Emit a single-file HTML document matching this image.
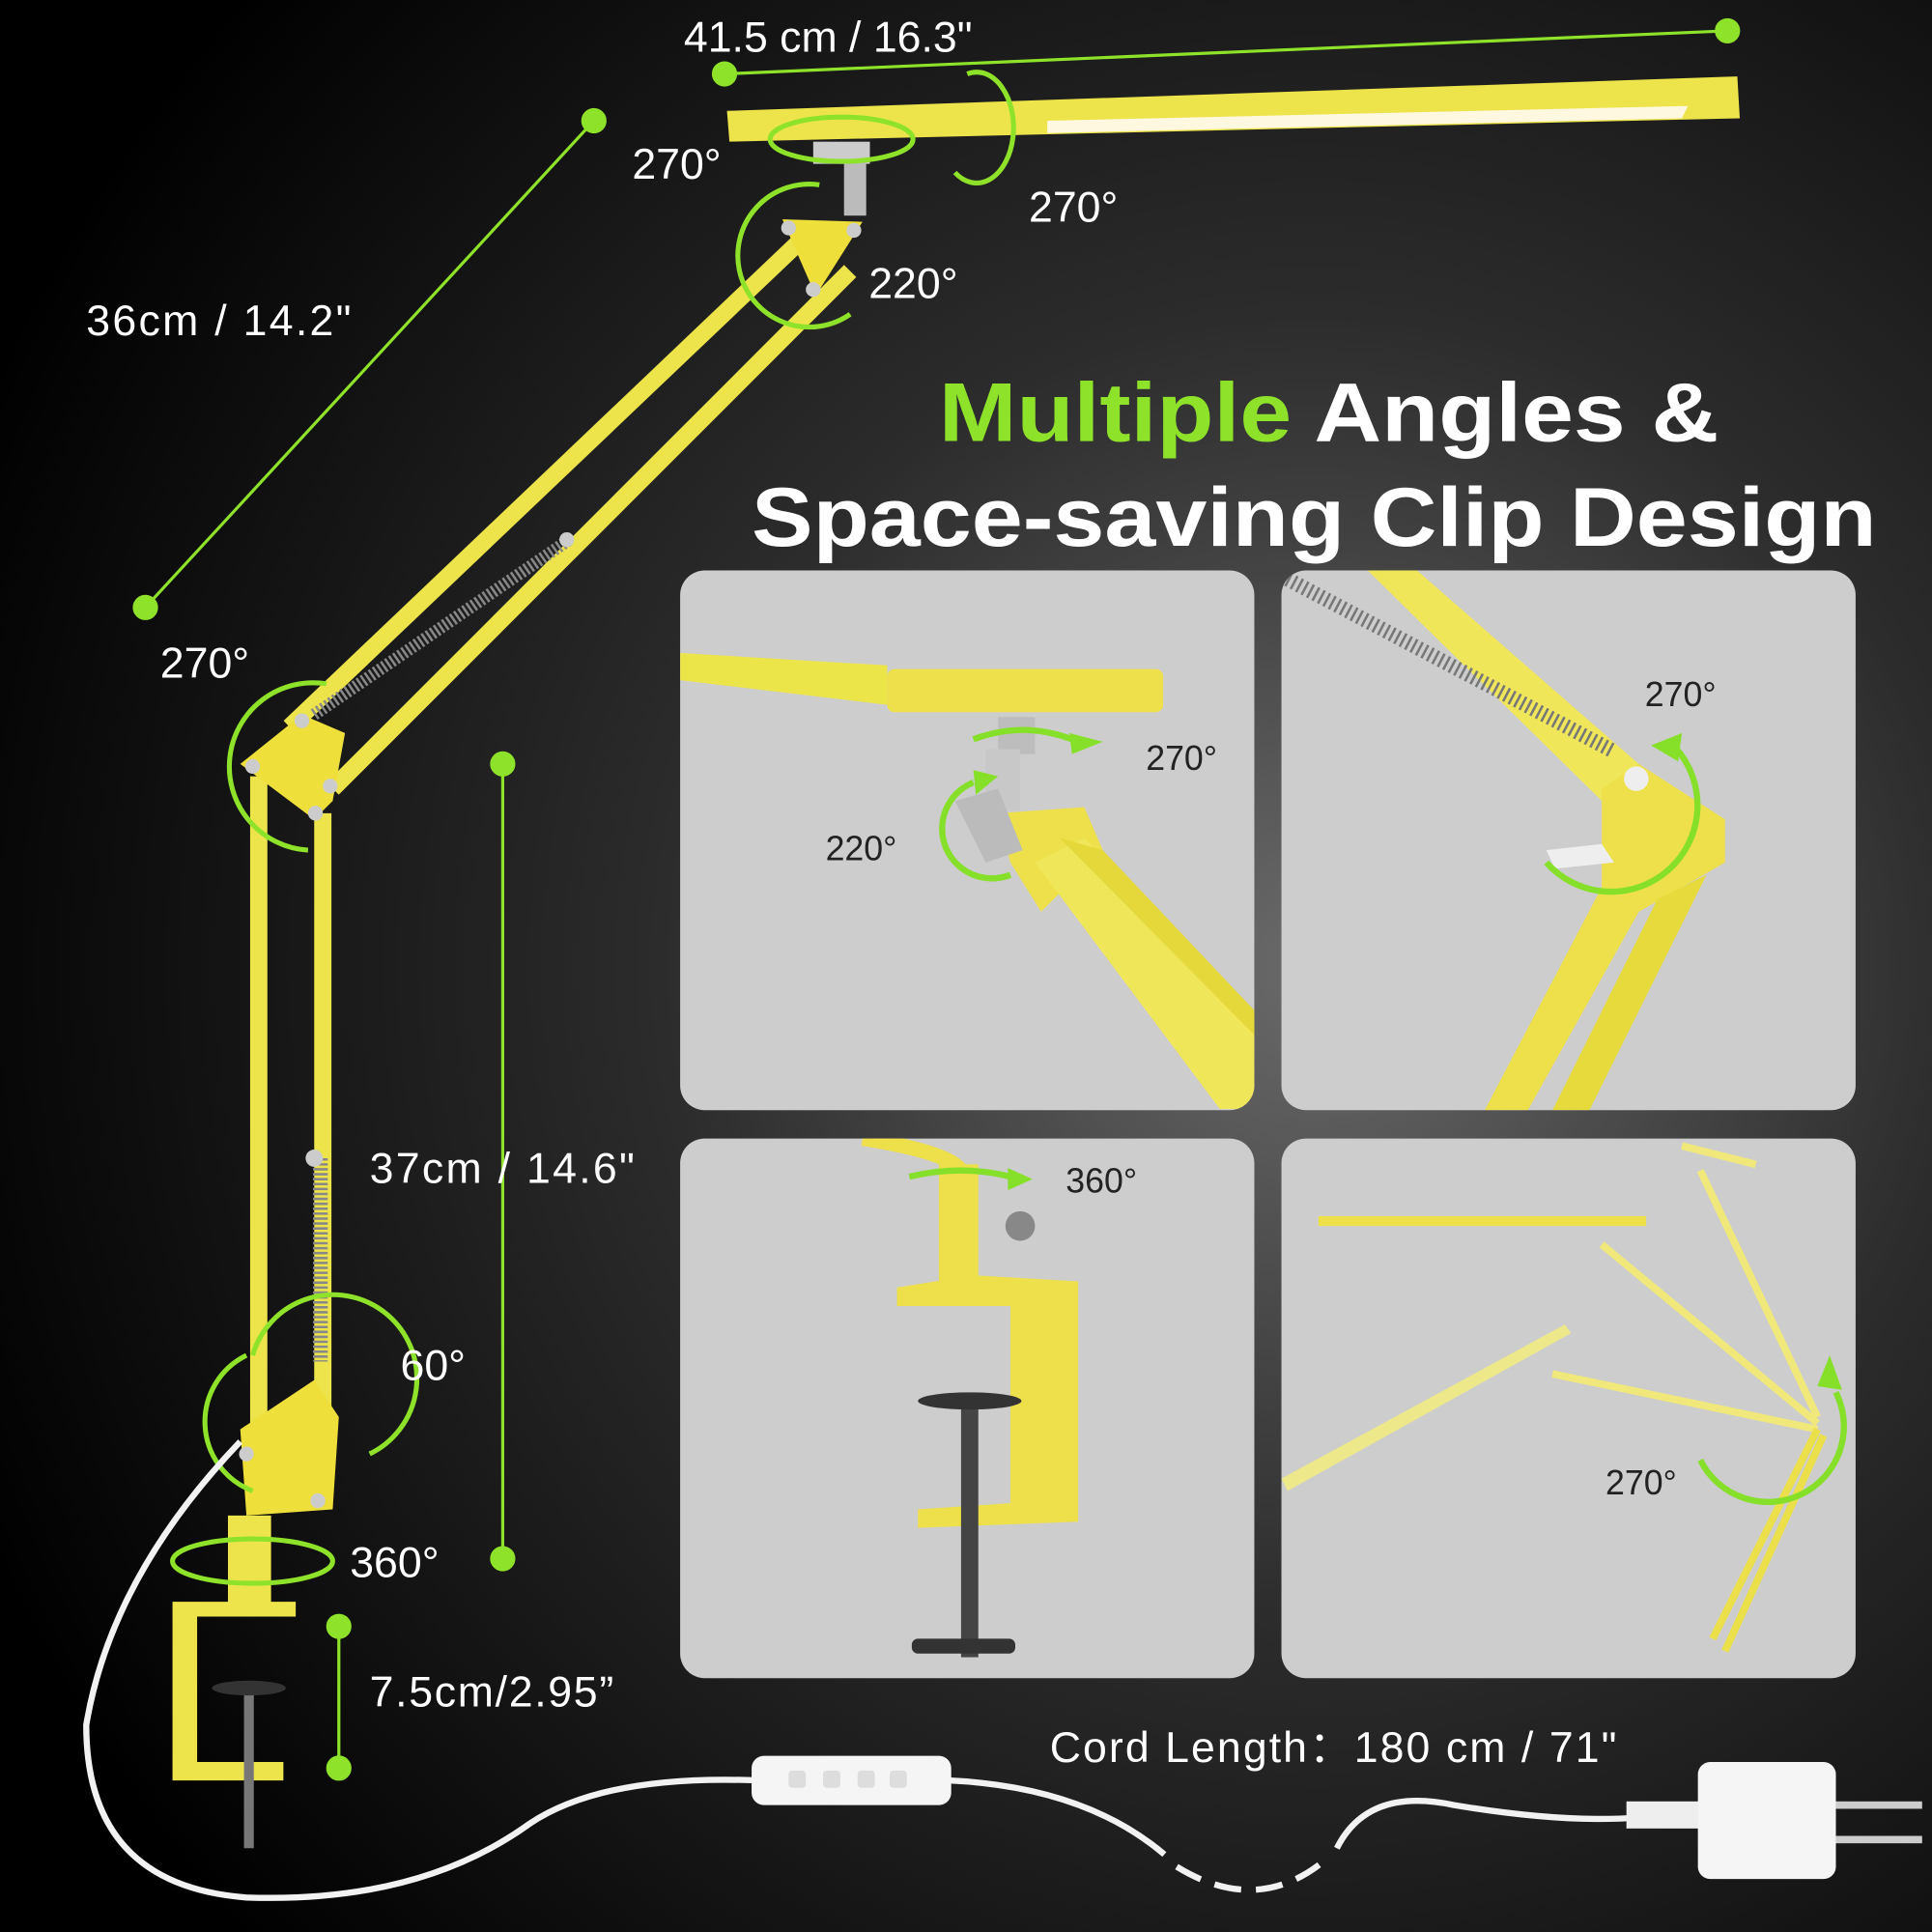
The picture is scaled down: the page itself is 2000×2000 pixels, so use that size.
<!DOCTYPE html>
<html><head><meta charset="utf-8"><style>
html,body{margin:0;padding:0;background:#000}
svg{display:block}
text{font-family:"Liberation Sans",sans-serif;fill:#fff}
</style></head><body>
<svg width="2000" height="2000" viewBox="0 0 1568 1568" xmlns="http://www.w3.org/2000/svg">
<defs>
<radialGradient id="bg" cx="0.68" cy="0.5" r="0.75">
<stop offset="0" stop-color="#6a6a6a"/><stop offset="0.45" stop-color="#2c2c2c"/><stop offset="1" stop-color="#000"/>
</radialGradient>
</defs>
<rect width="1568" height="1568" fill="url(#bg)"/>

<g fill="#cdcdcd">
<rect x="552" y="463" width="466" height="438" rx="20"/>
<rect x="1040" y="463" width="466" height="438" rx="20"/>
<rect x="552" y="924" width="466" height="438" rx="20"/>
<rect x="1040" y="924" width="466" height="438" rx="20"/>
</g>

<clipPath id="c1"><rect x="552" y="463" width="466" height="438" rx="20"/></clipPath>
<g clip-path="url(#c1)">
<polygon points="552,530 720,540 720,572 552,552" fill="#ece54a"/>
<rect x="720" y="543" width="224" height="35" rx="6" fill="#eee04a"/>
<rect x="810" y="582" width="30" height="30" fill="#bdbdbd"/>
<rect x="800" y="608" width="28" height="50" fill="#c8c8c8"/>
<polygon points="810,660 880,655 895,690 845,740 820,700" fill="#eee04a"/>
<polygon points="840,700 880,680 1018,830 1018,900 990,900" fill="#f0e65a"/>
<polygon points="860,680 895,690 1018,820 1018,840" fill="#e4d83a"/>
<polygon points="775,650 810,640 830,690 800,700" fill="#bbb"/>
<path d="M790,600 Q830,585 870,600" stroke="#86e02a" stroke-width="5" fill="none"/>
<polygon points="868,595 895,602 870,612" fill="#86e02a"/>
<path d="M790,635 A40,40 0 1 0 820,710" stroke="#86e02a" stroke-width="5" fill="none"/>
<polygon points="790,625 810,630 792,645" fill="#86e02a"/>
<text x="930" y="625" font-size="28" style="fill:#222">270°</text>
<text x="670" y="698" font-size="28" style="fill:#222">220°</text>
</g>

<clipPath id="c2"><rect x="1040" y="463" width="466" height="438" rx="20"/></clipPath>
<g clip-path="url(#c2)">
<polygon points="1110,463 1150,463 1330,620 1300,650" fill="#f0e65a"/>
<line x1="1045" y1="470" x2="1310" y2="610" stroke="#777" stroke-width="12" stroke-dasharray="2 3"/>
<polygon points="1300,640 1330,620 1400,665 1400,700 1330,740 1300,720" fill="#eee04a"/>
<polygon points="1300,720 1330,740 1240,901 1205,901" fill="#eee04a"/>
<polygon points="1345,730 1385,710 1290,901 1260,901" fill="#e6da3c"/>
<polygon points="1255,690 1300,685 1310,700 1262,705" fill="#eee"/>
<circle cx="1328" cy="632" r="10" fill="#eee"/>
<path d="M1360,607 A70,70 0 1 1 1255,700" stroke="#86e02a" stroke-width="5" fill="none"/>
<polygon points="1340,605 1365,595 1362,618" fill="#86e02a"/>
<text x="1335" y="573" font-size="28" style="fill:#222">270°</text>
</g>

<clipPath id="c3"><rect x="552" y="924" width="466" height="438" rx="20"/></clipPath>
<g clip-path="url(#c3)">
<path d="M700,924 Q770,935 780,950" stroke="#eee04a" stroke-width="12" fill="none"/>
<rect x="762" y="945" width="32" height="100" fill="#eee04a"/>
<circle cx="828" cy="995" r="12" fill="#888"/>
<polygon points="728,1045 790,1035 875,1040 875,1235 745,1240 745,1225 820,1220 820,1060 728,1060" fill="#eee04a"/>
<rect x="780" y="1135" width="14" height="210" fill="#444"/>
<ellipse cx="787" cy="1137" rx="42" ry="7" fill="#333"/>
<rect x="740" y="1330" width="84" height="12" rx="5" fill="#333"/>
<path d="M738,955 Q780,945 820,955" stroke="#86e02a" stroke-width="5" fill="none"/>
<polygon points="818,948 838,957 818,966" fill="#86e02a"/>
<text x="865" y="968" font-size="28" style="fill:#222">360°</text>
</g>

<clipPath id="c4"><rect x="1040" y="924" width="466" height="438" rx="20"/></clipPath>
<g clip-path="url(#c4)">
<rect x="1070" y="987" width="266" height="8" fill="#eee04a"/>
<polygon points="1040,1200 1270,1075 1275,1082 1045,1210" fill="#ede88a"/>
<g stroke="#f0e87a" stroke-width="6" fill="none">
<line x1="1300" y1="1010" x2="1475" y2="1155"/>
<line x1="1380" y1="950" x2="1475" y2="1150"/>
<line x1="1260" y1="1115" x2="1475" y2="1160"/>
<line x1="1365" y1="930" x2="1425" y2="945"/>
</g>
<g stroke="#ece04a" stroke-width="6" fill="none">
<line x1="1475" y1="1160" x2="1390" y2="1330"/>
<line x1="1480" y1="1165" x2="1400" y2="1340"/>
</g>
<path d="M1380,1185 A60,60 0 0 0 1490,1130" stroke="#86e02a" stroke-width="5" fill="none"/>
<polygon points="1475,1125 1485,1100 1495,1128" fill="#86e02a"/>
<text x="1303" y="1213" font-size="28" style="fill:#222">270°</text>
</g>

<text x="762" y="358" font-size="68" font-weight="bold" textLength="633" lengthAdjust="spacingAndGlyphs"><tspan fill="#8ee32a">Multiple</tspan> Angles &amp;</text>
<text x="610" y="443" font-size="68" font-weight="bold" textLength="913" lengthAdjust="spacingAndGlyphs">Space-saving Clip Design</text>

<g stroke="#8ee32a" stroke-width="2.5" fill="#8ee32a">
<line x1="588" y1="60" x2="1402" y2="25"/><circle cx="588" cy="60" r="9"/><circle cx="1402" cy="25" r="9"/>
<line x1="118" y1="493" x2="482" y2="98"/><circle cx="118" cy="493" r="9"/><circle cx="482" cy="98" r="9"/>
<line x1="408" y1="620" x2="408" y2="1265"/><circle cx="408" cy="620" r="9"/><circle cx="408" cy="1265" r="9"/>
<line x1="275" y1="1320" x2="275" y2="1435"/><circle cx="275" cy="1320" r="9"/><circle cx="275" cy="1435" r="9"/>
</g>

<polygon points="590,90 1410,62 1412,96 592,115" fill="#ece44a"/>
<polygon points="850,98 1370,86 1365,96 850,108" fill="#fff8e0"/>
<rect x="660" y="115" width="46" height="18" fill="#ccc"/>
<rect x="685" y="130" width="18" height="45" fill="#bbb"/>
<g stroke="#ece44a" stroke-width="14" fill="none">
<line x1="650" y1="195" x2="235" y2="590"/>
<line x1="690" y1="220" x2="270" y2="640"/>
<line x1="210" y1="630" x2="210" y2="1220"/>
<line x1="262" y1="660" x2="262" y2="1150"/>
</g>
<line x1="255" y1="580" x2="462" y2="438" stroke="#888" stroke-width="10" stroke-dasharray="2 2"/>
<line x1="260" y1="940" x2="260" y2="1105" stroke="#888" stroke-width="12" stroke-dasharray="2 2"/>
<polygon points="635,178 700,180 662,240" fill="#eedf3a"/>
<polygon points="195,620 245,580 280,595 270,650 255,665" fill="#eedf3a"/>
<polygon points="195,1160 255,1120 275,1150 270,1225 200,1230" fill="#eedf3a"/>
<g fill="#ccc"><circle cx="640" cy="185" r="6"/><circle cx="693" cy="187" r="6"/><circle cx="660" cy="235" r="6"/>
<circle cx="245" cy="585" r="6"/><circle cx="205" cy="622" r="6"/><circle cx="268" cy="638" r="6"/><circle cx="256" cy="660" r="6"/><circle cx="460" cy="438" r="6"/>
<circle cx="255" cy="940" r="7"/><circle cx="200" cy="1180" r="6"/><circle cx="258" cy="1218" r="6"/></g>
<rect x="185" y="1230" width="35" height="75" fill="#ece44a"/>
<polygon points="140,1300 240,1300 240,1312 160,1312 160,1430 230,1430 230,1445 140,1445" fill="#ece44a"/>
<rect x="198" y="1370" width="8" height="130" fill="#777"/>
<ellipse cx="202" cy="1370" rx="30" ry="6" fill="#333"/>

<g stroke="#8ee32a" stroke-width="4" fill="none">
<ellipse cx="683" cy="113" rx="58" ry="18"/>
<path d="M785,60 A30,45 0 1 1 775,140"/>
<path d="M665,150 A58,58 0 1 0 690,255"/>
<path d="M265,555 A68,68 0 1 0 250,690"/>
<path d="M205,1100 A68,68 0 1 1 300,1180"/>
<path d="M200,1100 A60,60 0 0 0 205,1210"/>
<ellipse cx="205" cy="1267" rx="65" ry="18"/>
</g>

<path d="M195,1170 Q90,1280 70,1400 Q70,1530 200,1540 Q340,1545 430,1480 Q490,1440 615,1445" stroke="#f2f2f2" stroke-width="5" fill="none"/>
<path d="M770,1445 Q880,1450 945,1505" stroke="#f2f2f2" stroke-width="5" fill="none"/>
<path d="M955,1515 Q1020,1555 1075,1510" stroke="#f2f2f2" stroke-width="5" fill="none" stroke-dasharray="22 12"/>
<path d="M1085,1500 Q1110,1450 1180,1465 Q1270,1480 1330,1475" stroke="#f2f2f2" stroke-width="5" fill="none"/>
<rect x="610" y="1425" width="162" height="40" rx="10" fill="#f5f5f5"/>
<g fill="#ddd"><rect x="640" y="1437" width="14" height="14" rx="3"/><rect x="668" y="1437" width="14" height="14" rx="3"/><rect x="696" y="1437" width="14" height="14" rx="3"/><rect x="722" y="1437" width="14" height="14" rx="3"/></g>
<rect x="1320" y="1462" width="60" height="22" fill="#eee"/>
<rect x="1378" y="1430" width="112" height="95" rx="10" fill="#f5f5f5"/>
<rect x="1490" y="1462" width="70" height="6" fill="#ccc"/><rect x="1490" y="1490" width="70" height="6" fill="#ccc"/>

<g font-size="35">
<text x="555" y="42">41.5 cm / 16.3"</text>
<text x="513" y="145">270°</text>
<text x="835" y="180">270°</text>
<text x="705" y="242">220°</text>
<text x="70" y="272" textLength="215">36cm  / 14.2"</text>
<text x="130" y="550">270°</text>
<text x="300" y="960" textLength="215">37cm  / 14.6"</text>
<text x="325" y="1120">60°</text>
<text x="284" y="1280">360°</text>
<text x="300" y="1385" textLength="198">7.5cm/2.95”</text>
<text x="852" y="1430" textLength="460">Cord Length：180 cm / 71"</text>
</g>
</svg>
</body></html>
